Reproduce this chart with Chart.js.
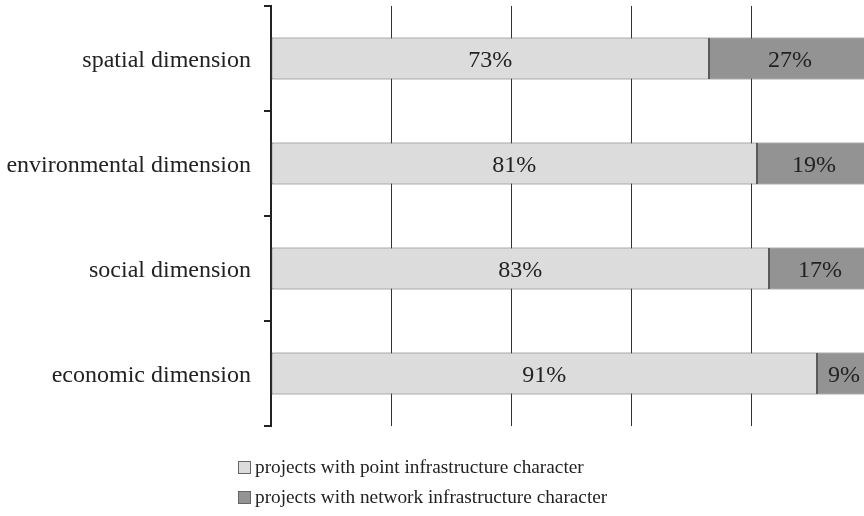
<!DOCTYPE html>
<html>
<head>
<meta charset="utf-8">
<script src="https://cdn.jsdelivr.net/npm/chart.js@4.4.0/dist/chart.umd.min.js"></script>
<style>
  html, body { margin: 0; padding: 0; background: #fff; width: 864px; height: 516px; overflow: hidden; }
  #wrap { position: relative; width: 880px; height: 516px; }
  #legend { position: absolute; left: 238px; top: 452px; font-family: "Liberation Serif", "Times New Roman", serif; font-size: 19.3px; color: #222; line-height: 30px; }
  #legend .item { display: flex; align-items: center; white-space: nowrap; }
  #legend .box { width: 11px; height: 11px; border: 1px solid #666; margin-right: 4px; }
</style>
</head>
<body>
<div id="wrap">
  <canvas id="chart" width="880" height="516"></canvas>
  <div id="legend"></div>
</div>
<script>
// ── Dados
const categorias = ['spatial dimension', 'environmental dimension', 'social dimension', 'economic dimension'];
const pontual    = [73, 81, 83, 91];
const rede       = [27, 19, 17, 9];
const series     = ['projects with point infrastructure character', 'projects with network infrastructure character'];
const cores      = ['#dcdcdc', '#939393'];

const FONTE = '"Liberation Serif", "Times New Roman", serif';

// ── Rótulos de % dentro das barras
const rotulosPlugin = {
  id: 'rotulos',
  afterDatasetsDraw(chart) {
    const ctx = chart.ctx;
    ctx.save();
    ctx.font = '24px ' + FONTE;
    ctx.fillStyle = '#222';
    ctx.textAlign = 'center';
    ctx.textBaseline = 'middle';
    chart.data.datasets.forEach((ds, di) => {
      chart.getDatasetMeta(di).data.forEach((bar, i) => {
        const { x, base, y } = bar.getProps(['x', 'base', 'y'], true);
        ctx.fillText(ds.data[i] + '%', (x + base) / 2, y + 2);
      });
    });
    ctx.restore();
  }
};

new Chart(document.getElementById('chart').getContext('2d'), {
  type: 'bar',
  data: {
    labels: categorias,
    datasets: [
      { label: series[0], data: pontual, backgroundColor: cores[0], borderColor: '#5a5a5a', borderWidth: 1, borderSkipped: false },
      { label: series[1], data: rede,    backgroundColor: cores[1], borderColor: '#5a5a5a', borderWidth: 1, borderSkipped: false }
    ]
  },
  options: {
    indexAxis: 'y',
    responsive: false,
    animation: false,
    layout: { padding: { top: 6, bottom: 90, left: 0, right: 9 } },
    datasets: { bar: { categoryPercentage: 1, barPercentage: 0.4 } },
    plugins: { legend: { display: false }, tooltip: { enabled: false } },
    scales: {
      x: {
        stacked: true, min: 0, max: 100,
        ticks: { display: false, stepSize: 20 },
        grid: { color: '#333', lineWidth: 1, drawTicks: false },
        border: { display: false },
        afterFit: s => { s.height = 0; s.paddingLeft = 0; s.paddingRight = 0; }
      },
      y: {
        stacked: true,
        ticks: { color: '#222', font: { family: FONTE, size: 24 }, padding: 13, labelOffset: 2 },
        grid: { drawOnChartArea: false, drawTicks: true, tickLength: 7, offset: true, color: '#222', lineWidth: 2 },
        border: { display: true, color: '#222', width: 2 },
        afterFit: s => { s.width = 271; s.paddingTop = 0; s.paddingBottom = 0; }
      }
    }
  },
  plugins: [rotulosPlugin]
});

// ── Legenda vertical
document.getElementById('legend').innerHTML = series.map((s, i) =>
  `<div class="item"><span class="box" style="background:${cores[i]}"></span>${s}</div>`).join('');
</script>
</body>
</html>
